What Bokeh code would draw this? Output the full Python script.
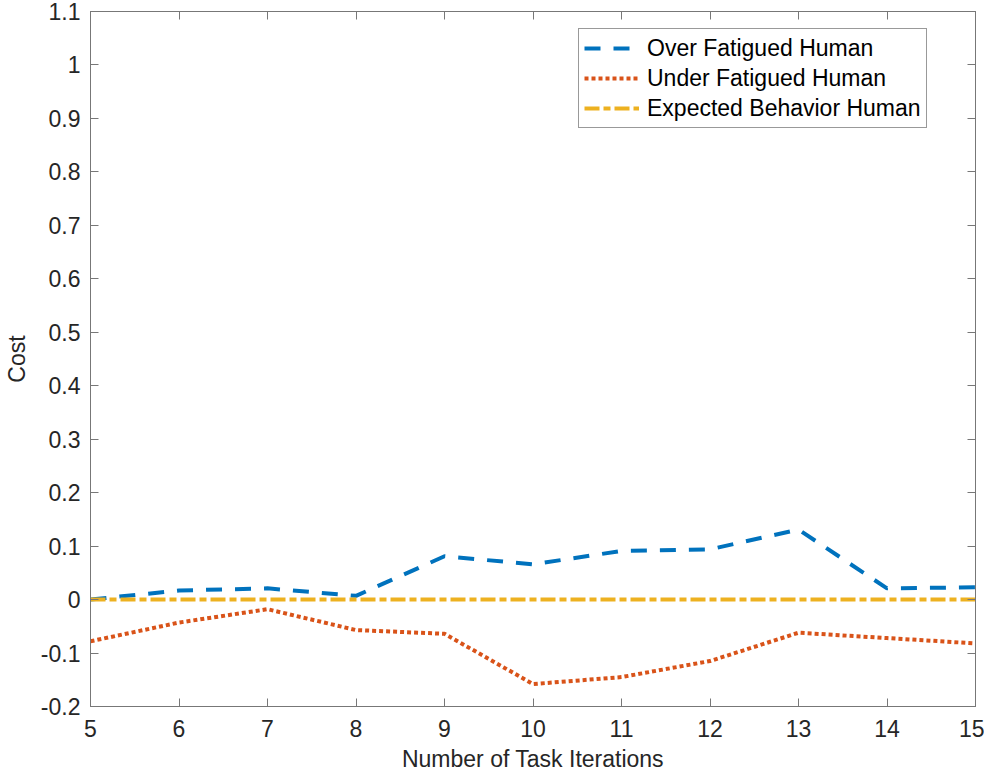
from bokeh.plotting import figure
from bokeh.models import Range1d, FixedTicker, LinearAxis, Legend, LegendItem, CustomLabelingPolicy
from bokeh.embed import file_html
from bokeh.resources import INLINE

# ---- data ----
iterations = [5, 6, 7, 8, 9, 10, 11, 12, 13, 14, 15]
over_fatigued = [0.0, 0.017, 0.021, 0.007, 0.081, 0.066, 0.091, 0.094, 0.131, 0.021, 0.023]
under_fatigued = [-0.078, -0.043, -0.018, -0.057, -0.064, -0.158, -0.145, -0.115, -0.062, -0.072, -0.082]
expected = [0.0, 0.0, 0.0, 0.0, 0.0, 0.0, 0.0, 0.0, 0.0, 0.0, 0.0]

x_ticks = [5, 6, 7, 8, 9, 10, 11, 12, 13, 14, 15]
y_ticks = [-0.2, -0.1, 0, 0.1, 0.2, 0.3, 0.4, 0.5, 0.6, 0.7, 0.8, 0.9, 1, 1.1]
y_tick_labels = ["-0.2", "-0.1", "0", "0.1", "0.2", "0.3", "0.4", "0.5", "0.6",
                 "0.7", "0.8", "0.9", "1", "1.1"]

series_names = ["Over Fatigued Human", "Under Fatigued Human", "Expected Behavior Human"]
series_colors = ["#0072BD", "#D95319", "#EDB120"]

FONT = "Liberation Sans"
AXIS_COL = "#777777"
TEXT_COL = "#262626"

p = figure(width=984, height=776, output_backend="svg", toolbar_location=None,
           x_range=Range1d(5, 15), y_range=Range1d(-0.2, 1.1),
           min_border_left=83, min_border_right=9, min_border_top=11, min_border_bottom=70)
p.grid.visible = False
p.outline_line_color = AXIS_COL
p.background_fill_color = "white"

r1 = p.line(iterations, over_fatigued, line_color=series_colors[0], line_width=4, line_dash="16 13")
r2 = p.line(iterations, under_fatigued, line_color=series_colors[1], line_width=4, line_dash="4 3")
r3 = p.line(iterations, expected, line_color=series_colors[2], line_width=4, line_dash="15 4 7 4")

def style_axis(ax, labels=True):
    ax.axis_line_color = AXIS_COL
    ax.major_tick_line_color = AXIS_COL
    ax.major_tick_in = 8
    ax.major_tick_out = 0
    ax.minor_tick_line_color = None
    ax.major_label_text_font = FONT
    ax.major_label_text_color = TEXT_COL
    ax.axis_label_text_font = FONT
    ax.axis_label_text_color = TEXT_COL
    ax.axis_label_text_font_style = "normal"
    if labels:
        ax.major_label_text_font_size = "23px"
        ax.axis_label_text_font_size = "23px"
    else:
        ax.major_label_text_font_size = "1px"
        ax.major_label_standoff = 0
        ax.major_label_policy = CustomLabelingPolicy(
            code="for (const i of indices) { indices.unset(i) }\nreturn indices")

p.xaxis.ticker = FixedTicker(ticks=x_ticks)
p.yaxis.ticker = FixedTicker(ticks=y_ticks)
p.yaxis.major_label_overrides = {t: l for t, l in zip(y_ticks, y_tick_labels)}
p.xaxis.axis_label = "Number of Task Iterations"
p.yaxis.axis_label = "Cost"
style_axis(p.xaxis[0])
style_axis(p.yaxis[0])
p.xaxis.major_label_standoff = 13
p.xaxis.axis_label_standoff = 6
p.yaxis.major_label_standoff = 10
p.yaxis.axis_label_standoff = 8

top_ax = LinearAxis(ticker=FixedTicker(ticks=x_ticks))
right_ax = LinearAxis(ticker=FixedTicker(ticks=y_ticks))
style_axis(top_ax, labels=False)
style_axis(right_ax, labels=False)
p.add_layout(top_ax, "above")
p.add_layout(right_ax, "right")

legend = Legend(items=[LegendItem(label=series_names[0], renderers=[r1]),
                       LegendItem(label=series_names[1], renderers=[r2]),
                       LegendItem(label=series_names[2], renderers=[r3])],
                location=(488, 578))
legend.label_text_font = FONT
legend.label_text_font_size = "23px"
legend.label_text_color = "black"
legend.glyph_width = 55
legend.glyph_height = 28
legend.label_height = 28
legend.spacing = 2
legend.padding = 5
legend.margin = 0
legend.label_standoff = 8
legend.border_line_color = "#333333"
legend.border_line_width = 1
legend.background_fill_color = "white"
legend.background_fill_alpha = 1
p.add_layout(legend)

open("out.html", "w").write(file_html(p, INLINE))
